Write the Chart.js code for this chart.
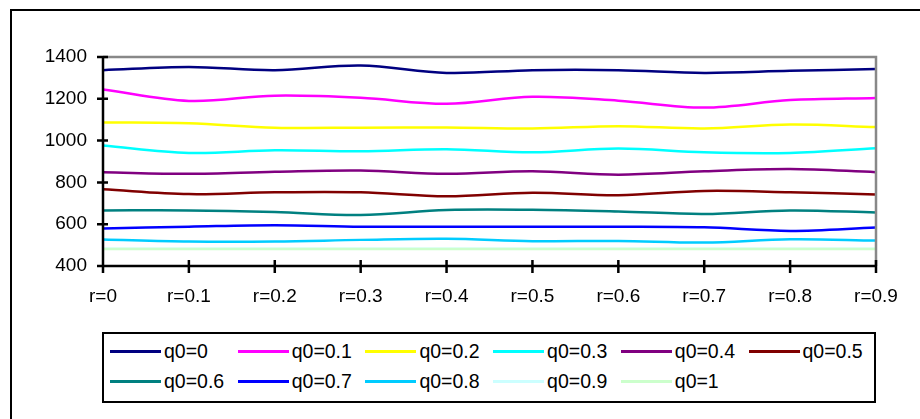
<!DOCTYPE html>
<html>
<head>
<meta charset="utf-8">
<script src="https://cdn.jsdelivr.net/npm/chart.js@4.4.1/dist/chart.umd.min.js"></script>
<style>
  html, body { margin: 0; padding: 0; background: #fff; overflow: hidden; }
  #wrap { position: relative; width: 920px; height: 419px; overflow: hidden; }
  #frame { position: absolute; left: 10px; top: 9px; width: 1000px; height: 1000px;
           border: 2px solid #000; box-sizing: border-box; }
  #legend { position: absolute; left: 102px; top: 332px; width: 774px; height: 71px;
            border: 2px solid #000; box-sizing: border-box; background: #fff; }
  .item { position: absolute; height: 22px; display: flex; align-items: center;
          font: 19.5px "Liberation Sans", Arial, sans-serif; color: #000; white-space: nowrap; }
  .item span.swatch { display: inline-block; width: 51px; height: 3px; margin-right: 3px; }
</style>
</head>
<body>
<div id="wrap">
  <div id="frame"></div>
  <canvas id="chart" width="920" height="419"></canvas>
  <div id="legend"></div>
</div>
<script>
const categories = ['r=0', 'r=0.1', 'r=0.2', 'r=0.3', 'r=0.4', 'r=0.5', 'r=0.6', 'r=0.7', 'r=0.8', 'r=0.9'];
const yTicks = [400, 600, 800, 1000, 1200, 1400];

const seriesNames = ['q0=0', 'q0=0.1', 'q0=0.2', 'q0=0.3', 'q0=0.4', 'q0=0.5',
                     'q0=0.6', 'q0=0.7', 'q0=0.8', 'q0=0.9', 'q0=1'];
const seriesColors = ['#000080', '#FF00FF', '#FFFF00', '#00FFFF', '#800080', '#800000',
                      '#008080', '#0000FF', '#00CCFF', '#CCFFFF', '#CCFFCC'];

const q0_00 = [1337, 1352, 1337, 1359, 1324, 1337, 1337, 1324, 1334, 1342];
const q0_01 = [1245, 1190, 1215, 1205, 1176, 1210, 1191, 1158, 1194, 1204];
const q0_02 = [1087, 1083, 1062, 1062, 1063, 1058, 1069, 1058, 1077, 1065];
const q0_03 = [976, 941, 954, 949, 959, 944, 962, 944, 941, 963];
const q0_04 = [849, 841, 851, 857, 841, 853, 837, 853, 864, 849];
const q0_05 = [767, 744, 753, 753, 734, 751, 739, 759, 753, 742];
const q0_06 = [666, 666, 658, 644, 668, 669, 661, 649, 666, 656];
const q0_07 = [580, 588, 595, 588, 588, 588, 588, 585, 568, 584];
const q0_08 = [527, 517, 517, 525, 530, 519, 520, 512, 528, 522];
const q0_09 = [482, 482, 482, 482, 482, 482, 482, 482, 482, 482];
const q0_10 = [481, 481, 481, 481, 481, 481, 481, 481, 481, 481];

const seriesValues = [q0_00, q0_01, q0_02, q0_03, q0_04, q0_05, q0_06, q0_07, q0_08, q0_09, q0_10];

const FONT = { family: '"Liberation Sans", Arial, sans-serif', size: 19 };

// tick marks crossing the axes, plus the grey frame on top and right
const axisDecor = {
  id: 'axisDecor',
  afterDraw(chart) {
    const { ctx, chartArea: a, scales: { x, y } } = chart;
    ctx.save();
    ctx.strokeStyle = '#888';
    ctx.lineWidth = 2.5;
    ctx.beginPath();
    ctx.moveTo(a.left, a.top);
    ctx.lineTo(a.right, a.top);
    ctx.lineTo(a.right, a.bottom);
    ctx.stroke();

    ctx.strokeStyle = '#000';
    ctx.lineWidth = 2.5;
    ctx.beginPath();
    ctx.moveTo(a.left, a.top);
    ctx.lineTo(a.left, a.bottom);
    ctx.lineTo(a.right, a.bottom);
    yTicks.forEach(v => {
      const py = y.getPixelForValue(v);
      ctx.moveTo(a.left - 6, py);
      ctx.lineTo(a.left + 5, py);
    });
    categories.forEach((c, i) => {
      const px = x.getPixelForValue(i);
      ctx.moveTo(px, a.bottom - 6);
      ctx.lineTo(px, a.bottom + 7);
    });
    ctx.stroke();
    ctx.restore();
  }
};

new Chart(document.getElementById('chart'), {
  type: 'line',
  data: {
    labels: categories,
    datasets: seriesNames.map((name, i) => ({
      label: name,
      data: seriesValues[i],
      borderColor: seriesColors[i],
      backgroundColor: seriesColors[i],
      borderWidth: 2.5,
      pointRadius: 0,
      tension: 0.35,
      fill: false,
      order: -i
    }))
  },
  options: {
    responsive: false,
    animation: false,
    layout: { padding: { left: 0, top: 57, right: 44, bottom: 0 } },
    plugins: {
      legend: { display: false },
      tooltip: { enabled: false }
    },
    scales: {
      x: {
        offset: false,
        grid: { display: false, drawTicks: false },
        border: { display: false },
        ticks: { color: '#000', font: FONT, padding: 19, maxRotation: 0, autoSkip: false },
        afterFit(scale) { scale.height = 153; }
      },
      y: {
        min: 400,
        max: 1400,
        grid: { display: false, drawTicks: false },
        border: { display: false },
        ticks: { color: '#000', font: FONT, padding: 16, stepSize: 200, callback: v => String(v) },
        afterFit(scale) { scale.width = 103; }
      }
    }
  },
  plugins: [axisDecor]
});

// two-row legend laid out in six columns
const legend = document.getElementById('legend');
seriesNames.forEach((name, i) => {
  const col = i % 6, row = Math.floor(i / 6);
  const item = document.createElement('div');
  item.className = 'item';
  item.style.left = (6 + col * 127.7) + 'px';
  item.style.top = (19.7 + row * 29.3 - 2 - 11) + 'px';
  const sw = document.createElement('span');
  sw.className = 'swatch';
  sw.style.background = seriesColors[i];
  item.appendChild(sw);
  item.appendChild(document.createTextNode(name));
  legend.appendChild(item);
});
</script>
</body>
</html>
